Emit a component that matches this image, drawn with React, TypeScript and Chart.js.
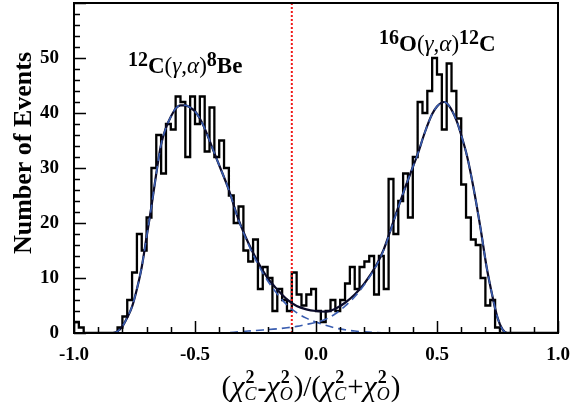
import React, { useEffect, useRef } from 'react';
import { Chart, registerables } from 'chart.js';

Chart.register(...registerables);

// ---------------- data ----------------
const X_MIN = -1.0;
const X_MAX = 1.0;
const Y_MIN = 0;
const Y_MAX = 60;
const BIN_WIDTH = 0.02;

// events per bin, bins of 0.02 from -1.0 to 1.0
const EVENT_COUNTS = [
  2, 1, 0, 0, 0, 0, 0, 0, 0, 1,
  3, 6, 11, 18, 15, 21, 30, 36, 29, 38,
  37, 43, 42, 32, 43, 38, 43, 33, 41, 32,
  35, 30, 25, 20, 23, 15, 13, 17, 8, 12,
  10, 4, 8, 6, 4, 11, 7, 5, 7, 8,
  4, 2, 4, 6, 4, 6, 9, 12, 8, 12,
  13, 14, 7, 14, 8, 28, 18, 24, 29, 21,
  32, 42, 40, 44, 50, 47, 37, 49, 44, 39,
  27, 21, 17, 16, 10, 5, 6, 1, 0, 0,
  0, 0, 0, 0, 0, 0, 0, 0, 0, 0,
];

// total fit (solid)
const FIT_TOTAL_X = [-1.0, -0.86, -0.84, -0.82, -0.80, -0.78, -0.76, -0.74, -0.72, -0.70, -0.68, -0.66, -0.64, -0.62, -0.60, -0.58, -0.56, -0.54, -0.52, -0.50, -0.48, -0.46, -0.44, -0.42, -0.40, -0.36, -0.32, -0.28, -0.24, -0.20, -0.16, -0.12, -0.08, -0.04, 0.00, 0.04, 0.08, 0.12, 0.16, 0.20, 0.25, 0.28, 0.33, 0.36, 0.39, 0.42, 0.45, 0.48, 0.50, 0.53, 0.55, 0.58, 0.60, 0.625, 0.65, 0.68, 0.705, 0.73, 0.75, 0.77, 0.79, 0.82, 1.0];
const FIT_TOTAL_Y = [0, 0, 0, 0.3, 1.2, 2.8, 4.8, 8, 12, 17.5, 23, 29, 34.3, 37.3, 39.3, 40.8, 41.4, 41.4, 41, 40.3, 39, 37.2, 35, 32.7, 30.5, 26, 20.6, 16.4, 12.9, 10, 7.9, 6.1, 4.9, 4.3, 4.0, 3.9, 4.4, 5.5, 7.0, 9.0, 12.4, 15.2, 21.6, 25.4, 29, 32.5, 36.5, 39.8, 41.2, 42, 41.3, 38.7, 36, 32, 26.6, 19, 12, 6.5, 2.8, 0.7, 0, 0, 0];

// 12C(γ,α)8Be component (dashed)
const FIT_C12_X = [-1.0, -0.86, -0.84, -0.82, -0.80, -0.78, -0.76, -0.74, -0.72, -0.70, -0.68, -0.66, -0.64, -0.62, -0.60, -0.58, -0.56, -0.54, -0.52, -0.50, -0.48, -0.46, -0.44, -0.42, -0.40, -0.36, -0.32, -0.28, -0.24, -0.20, -0.16, -0.12, -0.08, -0.04, 0.00, 0.04, 0.08, 0.12, 0.16, 0.20, 0.24, 0.30, 1.0];
const FIT_C12_Y = [0, 0, 0, 0.3, 1.2, 2.8, 4.8, 8, 12, 17.5, 23, 29, 34.3, 37.3, 39.3, 40.8, 41.4, 41.4, 41, 40.3, 39, 37.2, 35, 32.7, 30.5, 26, 20.5, 16.2, 12.5, 9.5, 7.1, 5.1, 3.7, 2.7, 2.0, 1.4, 0.9, 0.6, 0.35, 0.2, 0.1, 0, 0];

// 16O(γ,α)12C component (dashed)
const FIT_O16_X = [-1.0, -0.40, -0.34, -0.28, -0.22, -0.16, -0.12, -0.08, -0.04, 0.00, 0.04, 0.08, 0.12, 0.16, 0.20, 0.25, 0.28, 0.33, 0.36, 0.39, 0.42, 0.45, 0.48, 0.50, 0.53, 0.55, 0.58, 0.60, 0.625, 0.65, 0.68, 0.705, 0.73, 0.75, 0.77, 0.79, 0.82, 1.0];
const FIT_O16_Y = [0, 0, 0.15, 0.35, 0.55, 0.75, 0.95, 1.2, 1.55, 1.95, 2.5, 3.5, 4.9, 6.6, 8.8, 12.3, 15.1, 21.5, 25.4, 29, 32.5, 36.5, 39.8, 41.2, 42, 41.3, 38.7, 36, 32, 26.6, 19, 12, 6.5, 2.8, 0.7, 0, 0, 0];

const CUT_VALUE = -0.1;

const X_TICK_LABELS = [-1.0, -0.5, 0.0, 0.5, 1.0];
const Y_TICK_LABELS = [0, 10, 20, 30, 40, 50];
const X_MINOR_STEP = 0.1;
const X_MAJOR_EVERY = 5;
const Y_MINOR_STEP = 2;
const Y_MAJOR_EVERY = 5;

const Y_TITLE = 'Number of Events';

// ---------------- style ----------------
const SERIF = '"Liberation Serif", "Times New Roman", serif';
const COLOR_HIST = '#000000';
const COLOR_TOTAL = '#0b0b2a';
const COLOR_COMP = '#3a5db0';
const COLOR_CUT = '#f01818';

type Run = { t: string; font: string; dy?: number };

function drawRuns(ctx: CanvasRenderingContext2D, runs: Run[], x: number, y: number) {
  let cx = x;
  for (const r of runs) {
    ctx.font = r.font;
    ctx.fillText(r.t, cx, y + (r.dy || 0));
    cx += ctx.measureText(r.t).width;
  }
  return cx;
}

function reactionRuns(a: string, b: string, c: string, d: string): Run[] {
  const mainF = `bold 23px ${SERIF}`;
  const normF = `23px ${SERIF}`;
  const greekF = `italic 23px ${SERIF}`;
  const scriptF = `bold 20px ${SERIF}`;
  return [
    { t: a, font: scriptF, dy: -7 },
    { t: b, font: mainF },
    { t: '(', font: normF },
    { t: '\u03b3', font: greekF },
    { t: ',', font: normF },
    { t: '\u03b1', font: greekF },
    { t: ')', font: normF },
    { t: c, font: scriptF, dy: -7 },
    { t: d, font: mainF },
  ];
}

const decorPlugin = {
  id: 'decor',
  afterDatasetsDraw(chart: any) {
    const { ctx, chartArea: a, scales } = chart;
    const xs = scales.x;
    const ys = scales.y;
    ctx.save();
    ctx.strokeStyle = '#000';
    ctx.lineWidth = 1.5;
    ctx.beginPath();
    const nx = Math.round((X_MAX - X_MIN) / X_MINOR_STEP);
    for (let k = 0; k <= nx; k++) {
      const px = Math.round(xs.getPixelForValue(X_MIN + k * X_MINOR_STEP)) + 0.5;
      const len = k % X_MAJOR_EVERY === 0 ? 12 : 6;
      ctx.moveTo(px, a.bottom);
      ctx.lineTo(px, a.bottom - len);
    }
    const ny = Math.round((Y_MAX - Y_MIN) / Y_MINOR_STEP);
    for (let k = 0; k <= ny; k++) {
      const py = Math.round(ys.getPixelForValue(Y_MIN + k * Y_MINOR_STEP)) + 0.5;
      const len = k % Y_MAJOR_EVERY === 0 ? 12 : 6;
      ctx.moveTo(a.left, py);
      ctx.lineTo(a.left + len, py);
    }
    ctx.stroke();
    ctx.lineWidth = 2;
    ctx.strokeRect(a.left, a.top, a.right - a.left, a.bottom - a.top);

    ctx.fillStyle = '#000';
    ctx.textBaseline = 'alphabetic';
    ctx.textAlign = 'left';

    // y title
    ctx.save();
    ctx.translate(31, 153);
    ctx.rotate(-Math.PI / 2);
    ctx.font = `bold 26px ${SERIF}`;
    ctx.textAlign = 'center';
    ctx.fillText(Y_TITLE, 0, 0);
    ctx.restore();

    // x title: (χ²C - χ²O)/(χ²C + χ²O)
    const big = `29px ${SERIF}`;
    const chiF = `italic 30px ${SERIF}`;
    const supF = `bold 18px ${SERIF}`;
    const subF = `italic 18px ${SERIF}`;
    const parts: any[] = [
      { t: '(', font: big },
      { chi: 'C' },
      { t: '-', font: `bold 27px ${SERIF}` },
      { chi: 'O' },
      { t: ')/(', font: big },
      { chi: 'C' },
      { t: '+', font: big },
      { chi: 'O' },
      { t: ')', font: big },
    ];
    const measure = (p: any) => {
      if (p.chi) {
        ctx.font = chiF;
        const w1 = ctx.measureText('\u03c7').width;
        ctx.font = supF;
        const w2 = ctx.measureText('2').width;
        ctx.font = subF;
        const w3 = ctx.measureText(p.chi).width;
        return w1 + Math.max(w2, w3) + 1;
      }
      ctx.font = p.font;
      return ctx.measureText(p.t).width;
    };
    const total = parts.reduce((s, p) => s + measure(p), 0);
    let cx = 311 - total / 2;
    const by = 396;
    for (const p of parts) {
      if (p.chi) {
        ctx.font = chiF;
        ctx.fillText('\u03c7', cx, by);
        const w1 = ctx.measureText('\u03c7').width;
        ctx.font = supF;
        ctx.fillText('2', cx + w1 + 1, by - 13);
        ctx.font = subF;
        ctx.fillText(p.chi, cx + w1, by + 4);
        cx += measure(p);
      } else {
        ctx.font = p.font;
        ctx.fillText(p.t, cx, by);
        cx += measure(p);
      }
    }

    // reaction labels
    drawRuns(ctx, reactionRuns('12', 'C', '8', 'Be'), 128, 73);
    drawRuns(ctx, reactionRuns('16', 'O', '12', 'C'), 379, 51);

    ctx.restore();
  },
};

function toPoints(xs: number[], ys: number[]) {
  return xs.map((x, i) => ({ x, y: ys[i] }));
}

function histogramPoints() {
  const pts: { x: number; y: number }[] = [{ x: X_MIN, y: 0 }];
  EVENT_COUNTS.forEach((c, i) => pts.push({ x: X_MIN + i * BIN_WIDTH, y: c }));
  pts.push({ x: X_MIN + EVENT_COUNTS.length * BIN_WIDTH, y: 0 });
  return pts;
}

export default function App() {
  const ref = useRef<HTMLCanvasElement>(null);
  useEffect(() => {
    const canvas = ref.current;
    if (!canvas) return;
    const tickFont = { family: SERIF, size: 19, weight: 'bold' as const };
    const chart = new Chart(canvas, {
      type: 'line',
      data: {
        datasets: [
          {
            label: 'C12 component',
            data: toPoints(FIT_C12_X, FIT_C12_Y),
            borderColor: COLOR_COMP,
            borderWidth: 1.6,
            borderDash: [8, 5],
            pointRadius: 0,
            cubicInterpolationMode: 'monotone',
            fill: false,
            order: 1,
          },
          {
            label: 'O16 component',
            data: toPoints(FIT_O16_X, FIT_O16_Y),
            borderColor: COLOR_COMP,
            borderWidth: 1.6,
            borderDash: [8, 5],
            pointRadius: 0,
            cubicInterpolationMode: 'monotone',
            fill: false,
            order: 1,
          },
          {
            label: 'Total fit',
            data: toPoints(FIT_TOTAL_X, FIT_TOTAL_Y),
            borderColor: COLOR_TOTAL,
            borderWidth: 2.2,
            pointRadius: 0,
            cubicInterpolationMode: 'monotone',
            fill: false,
            order: 2,
          },
          {
            label: 'Cut',
            data: [{ x: CUT_VALUE, y: Y_MIN }, { x: CUT_VALUE, y: Y_MAX }],
            borderColor: COLOR_CUT,
            borderWidth: 2,
            borderDash: [2, 2],
            pointRadius: 0,
            fill: false,
            order: 3,
          },
          {
            label: 'Events',
            data: histogramPoints(),
            borderColor: COLOR_HIST,
            borderWidth: 2.3,
            pointRadius: 0,
            stepped: true,
            fill: false,
            order: 4,
          },
        ],
      },
      options: {
        responsive: false,
        animation: false,
        devicePixelRatio: 1,
        layout: { padding: { left: 0, right: 13, top: 3, bottom: 0 } },
        plugins: { legend: { display: false }, tooltip: { enabled: false } },
        scales: {
          x: {
            type: 'linear',
            min: X_MIN,
            max: X_MAX,
            afterBuildTicks: (s: any) => {
              s.ticks = X_TICK_LABELS.map((v) => ({ value: v }));
            },
            afterFit: (s: any) => {
              s.height = 72;
              s.paddingLeft = 0;
              s.paddingRight = 0;
            },
            ticks: {
              autoSkip: false,
              maxRotation: 0,
              padding: 11,
              color: '#000',
              font: tickFont,
              callback: (v: any) => Number(v).toFixed(1),
            },
            grid: { display: false, drawTicks: false },
            border: { display: false },
          },
          y: {
            type: 'linear',
            min: Y_MIN,
            max: Y_MAX,
            afterBuildTicks: (s: any) => {
              s.ticks = Y_TICK_LABELS.map((v) => ({ value: v }));
            },
            afterFit: (s: any) => {
              s.width = 74;
              s.paddingTop = 0;
              s.paddingBottom = 0;
            },
            ticks: {
              autoSkip: false,
              padding: 15,
              color: '#000',
              font: tickFont,
              callback: (v: any) => String(v),
            },
            grid: { display: false, drawTicks: false },
            border: { display: false },
          },
        },
      },
      plugins: [decorPlugin],
    } as any);
    return () => chart.destroy();
  }, []);
  return (
    <div style={{ position: 'absolute', left: 0, top: 0, width: 571, height: 405, background: '#fff' }}>
      <canvas ref={ref} width={571} height={405} style={{ display: 'block', width: 571, height: 405 }} />
    </div>
  );
}
